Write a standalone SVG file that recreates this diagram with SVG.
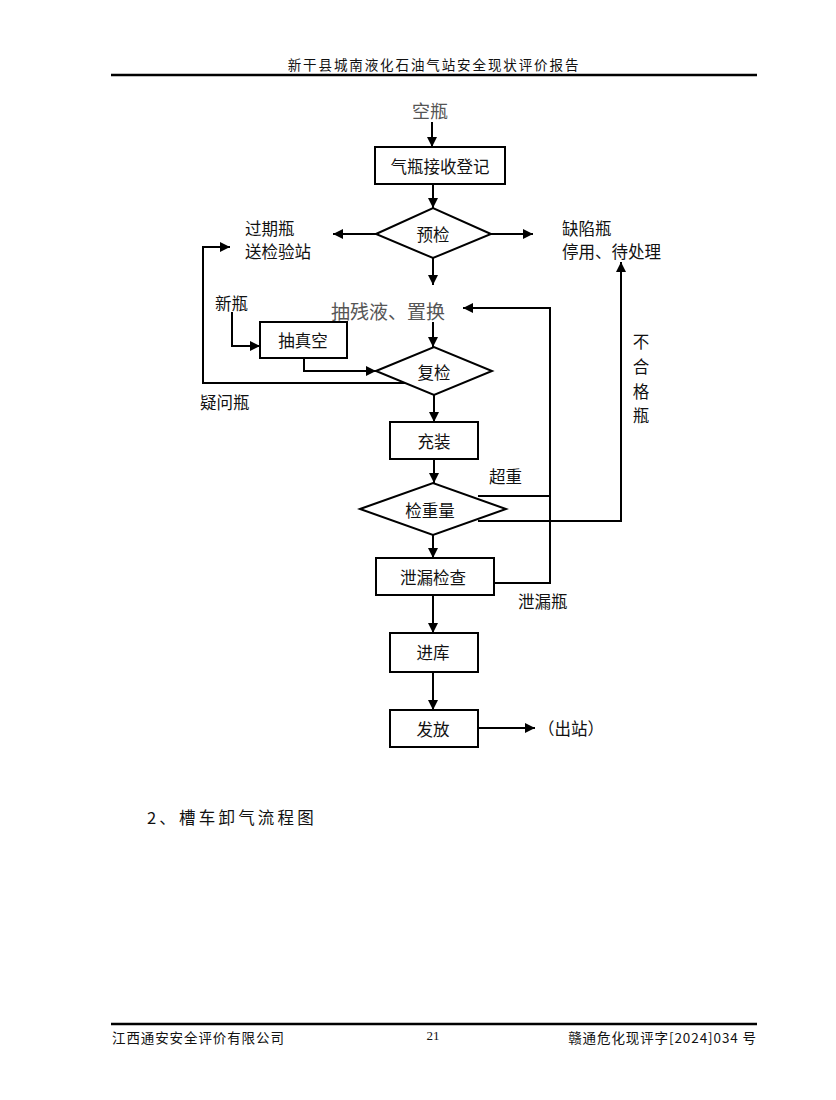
<svg xmlns="http://www.w3.org/2000/svg" width="836" height="1100" viewBox="0 0 836 1100">
<style>
.t{font-family:"Noto Sans CJK SC","Liberation Sans",sans-serif;font-size:16.5px;fill:#111;dominant-baseline:central}
.g{font-family:"Noto Sans CJK SC","Liberation Serif",serif;fill:#555;dominant-baseline:central}
.box{fill:#fff;stroke:#000;stroke-width:2}
.ln{fill:none;stroke:#000;stroke-width:2}
.hd{font-family:"Noto Sans CJK SC","Liberation Sans",sans-serif;font-size:13.5px;fill:#111;dominant-baseline:central}
</style>
<defs>
<marker id="ah" viewBox="0 0 10 10" refX="10" refY="5" markerWidth="11" markerHeight="10" markerUnits="userSpaceOnUse" orient="auto">
<path d="M0,0 L10,5 L0,10 z" fill="#000"/>
</marker>
</defs>
<rect width="836" height="1100" fill="#fff"/>
<g id="header">
<text class="hd" x="434" y="64" text-anchor="middle" letter-spacing="1.9">新干县城南液化石油气站安全现状评价报告</text>
<line x1="111" y1="75" x2="757" y2="75" stroke="#000" stroke-width="2.5"/>
</g>
<g id="connectors">
<line class="ln" x1="432" y1="122" x2="432" y2="147" marker-end="url(#ah)"/>
<line class="ln" x1="433" y1="184" x2="433" y2="208" marker-end="url(#ah)"/>
<line class="ln" x1="376" y1="234" x2="333" y2="234" marker-end="url(#ah)"/>
<line class="ln" x1="491" y1="234" x2="533" y2="234" marker-end="url(#ah)"/>
<line class="ln" x1="433" y1="258" x2="433" y2="285" marker-end="url(#ah)"/>
<line class="ln" x1="433" y1="322" x2="433" y2="347" marker-end="url(#ah)"/>
<line class="ln" x1="434" y1="395" x2="434" y2="422" marker-end="url(#ah)"/>
<line class="ln" x1="434" y1="459" x2="434" y2="483" marker-end="url(#ah)"/>
<line class="ln" x1="433" y1="535" x2="433" y2="558" marker-end="url(#ah)"/>
<line class="ln" x1="433" y1="595" x2="433" y2="633" marker-end="url(#ah)"/>
<line class="ln" x1="433" y1="672" x2="433" y2="710" marker-end="url(#ah)"/>
<line class="ln" x1="478" y1="728" x2="535" y2="728" marker-end="url(#ah)"/>
<polyline class="ln" points="405,383 203,383 203,247 230,247" marker-end="url(#ah)"/>
<polyline class="ln" points="232,312 232,346 260,346" marker-end="url(#ah)"/>
<polyline class="ln" points="304,358 304,371 376,371" marker-end="url(#ah)"/>
<polyline class="ln" points="478,521 621,521 621,262" marker-end="url(#ah)"/>
<line class="ln" x1="478" y1="496" x2="550" y2="496"/>
<polyline class="ln" points="494,583 550,583 550,308 463,308" marker-end="url(#ah)"/>
</g>
<g id="n-empty"><text class="g" x="430" y="110" font-size="18" text-anchor="middle">空瓶</text></g>
<g id="n-receive"><rect class="box" x="375" y="147" width="130" height="37"/><text class="t" x="440" y="165.5" text-anchor="middle">气瓶接收登记</text></g>
<g id="n-precheck"><polygon class="box" points="376,234 433,208 491,234 433,258"/><text class="t" x="433" y="234" text-anchor="middle">预检</text></g>
<g id="n-expired"><text class="t" x="245" y="228">过期瓶</text><text class="t" x="245" y="251">送检验站</text></g>
<g id="n-defect"><text class="t" x="562" y="228">缺陷瓶</text><text class="t" x="562" y="251">停用、待处理</text></g>
<g id="n-residual"><text class="g" x="388" y="310" font-size="19" text-anchor="middle">抽残液、置换</text></g>
<g id="n-new"><text class="t" x="215" y="303">新瓶</text></g>
<g id="n-vacuum"><rect class="box" x="260" y="322" width="87" height="36"/><text class="t" x="303" y="340" text-anchor="middle">抽真空</text></g>
<g id="n-recheck"><polygon class="box" points="376,371 434,347 492,371 434,395"/><text class="t" x="434" y="372" text-anchor="middle">复检</text></g>
<g id="n-doubt"><text class="t" x="200" y="402">疑问瓶</text></g>
<g id="n-fill"><rect class="box" x="390" y="422" width="88" height="37"/><text class="t" x="434" y="440.5" text-anchor="middle">充装</text></g>
<g id="n-over"><text class="t" x="489" y="476">超重</text></g>
<g id="n-weigh"><polygon class="box" points="360,509 433,483 506,509 433,535"/><text class="t" x="430" y="510" text-anchor="middle">检重量</text></g>
<g id="n-unqualified"><text class="t" x="641" y="341" text-anchor="middle">不</text><text class="t" x="641" y="366" text-anchor="middle">合</text><text class="t" x="641" y="391" text-anchor="middle">格</text><text class="t" x="641" y="415" text-anchor="middle">瓶</text></g>
<g id="n-leakcheck"><rect class="box" x="376" y="558" width="118" height="37"/><text class="t" x="433" y="576.5" text-anchor="middle">泄漏检查</text></g>
<g id="n-leak"><text class="t" x="518" y="601">泄漏瓶</text></g>
<g id="n-store"><rect class="box" x="390" y="633" width="88" height="39"/><text class="t" x="433" y="652" text-anchor="middle">进库</text></g>
<g id="n-issue"><rect class="box" x="390" y="710" width="88" height="37"/><text class="t" x="433" y="728.5" text-anchor="middle">发放</text></g>
<g id="n-out"><text class="t" x="538" y="728">（出站）</text></g>
<g id="caption"><text class="t" x="147" y="817" font-size="18" letter-spacing="3.2">2、槽车卸气流程图</text></g>
<g id="footer">
<line x1="111" y1="1024" x2="757" y2="1024" stroke="#000" stroke-width="2.5"/>
<text class="hd" x="112" y="1037" letter-spacing="0.9">江西通安安全评价有限公司</text>
<text x="433" y="1035" font-family="Liberation Serif,serif" font-size="13" text-anchor="middle" dominant-baseline="central" fill="#111">21</text>
<text class="hd" x="757" y="1037" text-anchor="end" letter-spacing="0.9">赣通危化现评字[2024]034 号</text>
</g>
</svg>
